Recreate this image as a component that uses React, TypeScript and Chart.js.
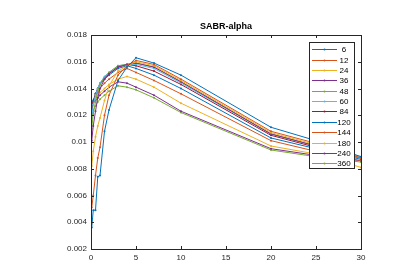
import React, { useEffect, useRef } from "react";
import { Chart, registerables } from "chart.js";

Chart.register(...registerables);

const tenors = [0.083, 0.25, 0.5, 0.75, 1, 1.5, 2, 3, 4, 5, 7, 10, 20, 25, 30];
const expiryLabels = ["6", "12", "24", "36", "48", "60", "84", "120", "144", "180", "240", "360"];

const s6 = [0.0036, 0.0049, 0.0049, 0.0074, 0.0075, 0.0108, 0.0124, 0.0146, 0.0156, 0.0163, 0.0159, 0.0150, 0.0111, 0.0101, 0.0089];
const s12 = [0.0051, 0.0060, 0.0075, 0.0088, 0.0096, 0.0120, 0.0135, 0.0150, 0.0157, 0.0161, 0.0158, 0.0147, 0.0108, 0.0099, 0.0088];
const s24 = [0.0082, 0.0093, 0.0104, 0.0112, 0.0118, 0.0131, 0.0142, 0.0153, 0.0157, 0.0160, 0.0157, 0.0146, 0.0107, 0.0098, 0.0088];
const s36 = [0.0101, 0.0112, 0.0123, 0.0133, 0.0140, 0.0147, 0.0151, 0.0156, 0.0158, 0.0159, 0.0156, 0.0145, 0.0106, 0.0097, 0.0088];
const s48 = [0.0110, 0.0121, 0.0130, 0.0138, 0.0143, 0.0148, 0.0152, 0.0157, 0.0158, 0.0159, 0.0156, 0.0145, 0.0106, 0.0097, 0.0088];
const s60 = [0.0118, 0.0128, 0.0135, 0.0140, 0.0144, 0.0149, 0.0152, 0.0157, 0.0158, 0.0158, 0.0155, 0.0144, 0.0106, 0.0097, 0.0089];
const s84 = [0.0122, 0.0130, 0.0136, 0.0140, 0.0144, 0.0148, 0.0151, 0.0156, 0.0158, 0.0157, 0.0153, 0.0143, 0.0105, 0.0096, 0.0088];
const s120 = [0.0125, 0.0131, 0.0136, 0.0140, 0.0143, 0.0147, 0.0150, 0.0155, 0.0157, 0.0155, 0.0150, 0.0140, 0.0103, 0.0095, 0.0087];
const s144 = [0.0126, 0.0131, 0.0135, 0.0137, 0.0140, 0.0144, 0.0147, 0.0152, 0.0155, 0.0152, 0.0146, 0.0136, 0.0101, 0.0093, 0.0086];
const s180 = [0.0126, 0.0130, 0.0133, 0.0135, 0.0137, 0.0140, 0.0143, 0.0147, 0.0149, 0.0147, 0.0141, 0.0129, 0.0097, 0.0091, 0.0081];
const s240 = [0.0125, 0.0129, 0.0131, 0.0133, 0.0135, 0.0138, 0.0141, 0.0145, 0.0144, 0.0141, 0.0135, 0.0123, 0.0095, 0.0090, 0.0086];
const s360 = [0.0118, 0.0124, 0.0127, 0.0130, 0.0132, 0.0135, 0.0138, 0.0142, 0.0141, 0.0139, 0.0133, 0.0122, 0.0094, 0.0089, 0.0085];

const seriesValues = [s6, s12, s24, s36, s48, s60, s84, s120, s144, s180, s240, s360];

const palette = [
  "#0072BD", "#D95319", "#EDB120", "#7E2F8E", "#77AC30", "#4DBEEE", "#A2142F",
  "#0072BD", "#D95319", "#EDB120", "#7E2F8E", "#77AC30",
];

const FONT = "'Liberation Sans', Arial, Helvetica, sans-serif";
const AXIS_COLOR = "#262626";

const matlabPlugin = {
  id: "matlabDecor",
  afterDraw(chart: any) {
    const { ctx, chartArea } = chart;
    const { left, right, top, bottom } = chartArea;
    const xs = chart.scales.x;
    const ys = chart.scales.y;
    ctx.save();
    ctx.strokeStyle = AXIS_COLOR;
    ctx.lineWidth = 1;
    ctx.strokeRect(Math.round(left) + 0.5, Math.round(top) + 0.5, Math.round(right - left), Math.round(bottom - top));
    ctx.beginPath();
    ys.ticks.forEach((t: any) => {
      const y = Math.round(ys.getPixelForValue(t.value)) + 0.5;
      ctx.moveTo(left, y);
      ctx.lineTo(left + 3, y);
      ctx.moveTo(right, y);
      ctx.lineTo(right - 3, y);
    });
    xs.ticks.forEach((t: any) => {
      const x = Math.round(xs.getPixelForValue(t.value)) + 0.5;
      ctx.moveTo(x, bottom);
      ctx.lineTo(x, bottom - 3);
      ctx.moveTo(x, top);
      ctx.lineTo(x, top + 3);
    });
    ctx.stroke();

    ctx.fillStyle = "#000";
    ctx.font = `bold 9px ${FONT}`;
    ctx.textAlign = "center";
    ctx.textBaseline = "middle";
    ctx.fillText("SABR-alpha", (left + right) / 2, 27);

    const bx = 309.5, by = 42.5, bw = 45, bh = 126;
    ctx.fillStyle = "#fff";
    ctx.fillRect(bx, by, bw, bh);
    ctx.strokeStyle = AXIS_COLOR;
    ctx.strokeRect(bx, by, bw, bh);
    ctx.font = `8px ${FONT}`;
    chart.data.datasets.forEach((ds: any, i: number) => {
      const y = Math.round(49.3 + i * 10.36) + 0.5;
      ctx.strokeStyle = ds.borderColor;
      ctx.lineWidth = 1;
      ctx.beginPath();
      ctx.moveTo(312, y);
      ctx.lineTo(337, y);
      ctx.stroke();
      ctx.fillStyle = ds.borderColor;
      ctx.beginPath();
      ctx.arc(324.5, y, 1, 0, Math.PI * 2);
      ctx.fill();
      ctx.fillStyle = "#000";
      ctx.textAlign = "center";
      ctx.fillText(ds.label, 344, y);
    });
    ctx.restore();
  },
};

export default function App() {
  const canvasRef = useRef<HTMLCanvasElement | null>(null);

  useEffect(() => {
    document.body.style.margin = "0";
    const canvas = canvasRef.current;
    if (!canvas) return;
    const datasets = seriesValues.map((vals, i) => ({
      label: expiryLabels[i],
      data: vals.map((v, j) => ({ x: tenors[j], y: v })),
      borderColor: palette[i],
      backgroundColor: palette[i],
      borderWidth: 1,
      pointRadius: 1,
      pointBorderWidth: 0,
      pointBackgroundColor: palette[i],
      tension: 0,
      fill: false,
    }));
    const chart = new Chart(canvas, {
      type: "line",
      data: { datasets },
      options: {
        animation: false,
        responsive: false,
        layout: { padding: { top: 35, right: 39, left: 0, bottom: 0 } },
        plugins: {
          legend: { display: false },
          title: { display: false },
          tooltip: { enabled: false },
        },
        scales: {
          x: {
            type: "linear",
            min: 0,
            max: 30,
            grid: { display: false, drawTicks: false },
            border: { display: false },
            ticks: {
              stepSize: 5,
              padding: 4,
              color: AXIS_COLOR,
              font: { family: FONT, size: 8 },
              maxRotation: 0,
              callback: (v: any) => String(v),
            },
            afterFit: (s: any) => {
              s.height = 23;
            },
          },
          y: {
            type: "linear",
            min: 0.002,
            max: 0.018,
            grid: { display: false, drawTicks: false },
            border: { display: false },
            ticks: {
              stepSize: 0.002,
              padding: 4,
              color: AXIS_COLOR,
              font: { family: FONT, size: 8 },
              callback: (v: any) => String(Number(Number(v).toFixed(3))),
            },
            afterFit: (s: any) => {
              s.width = 91;
            },
          },
        },
      },
      plugins: [matlabPlugin],
    });
    return () => chart.destroy();
  }, []);

  return (
    <div style={{ width: 400, height: 272, background: "#fff" }}>
      <canvas ref={canvasRef} width={400} height={272} />
    </div>
  );
}
